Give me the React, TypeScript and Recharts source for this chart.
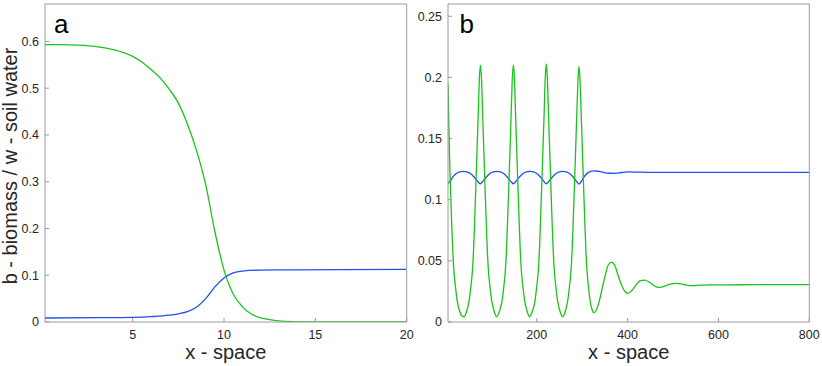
import React from "react";
import { LineChart, Line, XAxis, YAxis } from "recharts";

// panel a: front between vegetated and bare state
const A_X_TICKS = [5, 10, 15, 20];
const A_Y_TICKS = [0, 0.1, 0.2, 0.3, 0.4, 0.5, 0.6];

const aBiomass: [number, number][] = [
  [0.2, 0.593], [1, 0.593], [2, 0.592], [3, 0.589], [4, 0.582], [5, 0.568],
  [5.5, 0.556], [6, 0.54], [6.5, 0.522], [7, 0.498], [7.5, 0.468], [8, 0.423],
  [8.5, 0.366], [9, 0.293], [9.5, 0.193], [10, 0.111], [10.5, 0.06], [11, 0.033],
  [11.5, 0.017], [12, 0.009], [12.5, 0.005], [13, 0.0025], [14, 0.0008],
  [15, 0.0002], [17, 0], [20, 0],
];

const aWater: [number, number][] = [
  [0.2, 0.0086], [3, 0.0092], [5, 0.01], [6, 0.0115], [7, 0.0145], [7.5, 0.0175],
  [8, 0.022], [8.5, 0.032], [9, 0.05], [9.5, 0.075], [10, 0.094], [10.5, 0.105],
  [11, 0.109], [12, 0.111], [14, 0.1115], [20, 0.1125],
];

// panel b: periodic pattern next to uniform state
const B_X_TICKS = [200, 400, 600, 800];
const B_Y_TICKS = [0, 0.05, 0.1, 0.15, 0.2, 0.25];

const bBiomass: [number, number][] = [
  [4.6, 0.195], [6, 0.17], [8, 0.135], [10, 0.11], [12.5, 0.083], [15, 0.059],
  [18, 0.04], [21, 0.029], [25, 0.017], [30, 0.009], [34, 0.0055], [40, 0.0043],
  [46, 0.009], [51, 0.017], [55, 0.029], [58, 0.04], [61, 0.06], [63.5, 0.085],
  [66, 0.112], [68.5, 0.14], [71, 0.168], [73.5, 0.198], [76, 0.21], [78.5, 0.198],
  [81, 0.168], [83.5, 0.14], [86, 0.112], [88.5, 0.085], [91, 0.06], [94, 0.04],
  [97, 0.029], [101, 0.017], [106, 0.009], [112, 0.0043],
  [118, 0.009], [123.5, 0.017], [127.5, 0.029], [130.5, 0.04], [133.5, 0.06],
  [136, 0.085], [138.5, 0.112], [141, 0.14], [143.5, 0.168], [146, 0.198],
  [148.5, 0.21], [151, 0.198], [153.5, 0.168], [156, 0.14], [158.5, 0.112],
  [161, 0.085], [163.5, 0.06], [166.5, 0.04], [169.5, 0.029], [173.5, 0.017],
  [178.5, 0.009], [184.5, 0.0043],
  [190.5, 0.009], [196, 0.017], [200, 0.029], [203, 0.04], [206, 0.06],
  [208.5, 0.085], [211, 0.112], [213.5, 0.14], [216, 0.168], [218.5, 0.198],
  [221, 0.211], [223.5, 0.198], [226, 0.168], [228.5, 0.14], [231, 0.112],
  [233.5, 0.085], [236, 0.06], [239, 0.04], [242, 0.029], [246, 0.017],
  [251, 0.009], [257, 0.0043],
  [263, 0.009], [268, 0.017], [272, 0.029], [275, 0.04], [278, 0.06],
  [280.5, 0.085], [283, 0.112], [285.5, 0.14], [288, 0.168], [290.5, 0.196],
  [293, 0.209], [295.5, 0.196], [298, 0.168], [300.5, 0.14], [303, 0.112],
  [305.5, 0.085], [308, 0.06], [311, 0.04], [314, 0.028], [318, 0.016],
  [322, 0.01], [325, 0.0076],
  [330, 0.009], [337, 0.016], [345, 0.029], [352, 0.04], [358, 0.047], [365, 0.049],
  [372, 0.046], [380, 0.037], [388, 0.029], [395, 0.0245], [401, 0.0234],
  [410, 0.026], [420, 0.031], [428, 0.0338], [437, 0.0343], [446, 0.033],
  [455, 0.0305], [463, 0.0288], [471, 0.0283], [480, 0.0291], [490, 0.0305],
  [500, 0.0314], [508, 0.0316], [518, 0.0311], [530, 0.0302], [543, 0.0297],
  [560, 0.0301], [580, 0.0304], [620, 0.0304], [680, 0.0305], [740, 0.0305],
  [800, 0.0306],
];

const bWater: [number, number][] = [
  [4.6, 0.1135], [9, 0.115], [15, 0.1185], [22, 0.1212], [30, 0.1227], [38, 0.1232],
  [46, 0.1228], [54, 0.1214], [61, 0.119], [67, 0.1163], [71.5, 0.1143], [75.5, 0.113],
  [79.5, 0.1143], [84, 0.1163], [90, 0.119], [97, 0.1214], [104, 0.1228], [112, 0.1232],
  [120, 0.1228], [127, 0.1214], [134, 0.119], [140, 0.1163], [144.5, 0.1143],
  [148.5, 0.113], [152.5, 0.1143], [157, 0.1163], [163, 0.119], [170, 0.1214],
  [177, 0.1228], [185, 0.1232], [193, 0.1228], [200, 0.1214], [207, 0.119],
  [213, 0.1163], [217, 0.1143], [221, 0.113], [225, 0.1143], [229.5, 0.1163],
  [235.5, 0.119], [242.5, 0.1214], [249.5, 0.1228], [257, 0.1232], [265, 0.1228],
  [272, 0.1214], [279, 0.119], [285, 0.1163], [289, 0.1143], [293, 0.1128],
  [297, 0.1143], [301, 0.1168], [307, 0.12], [314, 0.1223], [321, 0.1234],
  [328, 0.1236], [337, 0.1231], [348, 0.1222], [360, 0.1216], [370, 0.1215],
  [382, 0.122], [395, 0.1226], [405, 0.1227], [420, 0.1225], [450, 0.1224],
  [500, 0.1224], [600, 0.1224], [700, 0.1224], [800, 0.1224],
];

const GREEN = "#19c419";
const BLUE = "#1f4ff2";
const AXIS = "#9a9a9a";
const FONT = "'Liberation Sans', Arial, sans-serif";
const tickStyle = { fill: "#262626", fontSize: 12.5, fontFamily: FONT };

const toPts = (arr: [number, number][]) => arr.map(([x, y]) => ({ x, y }));

function Panel({
  width, margin, xDomain, yDomain, xTicks, yTicks, biomass, water,
}: {
  width: number;
  margin: { top: number; right: number; bottom: number; left: number };
  xDomain: [number, number];
  yDomain: [number, number];
  xTicks: number[];
  yTicks: number[];
  biomass: [number, number][];
  water: [number, number][];
}) {
  return (
    <LineChart width={width} height={366} margin={margin}>
      <XAxis
        xAxisId="main" type="number" dataKey="x" domain={xDomain} ticks={xTicks}
        allowDataOverflow height={1} tickSize={-4} tickMargin={12}
        stroke={AXIS} tick={tickStyle} interval={0}
      />
      <XAxis
        xAxisId="top" orientation="top" type="number" dataKey="x" domain={xDomain}
        ticks={xTicks} allowDataOverflow height={1} tickSize={-4} tick={false} stroke={AXIS}
        interval={0}
      />
      <YAxis
        yAxisId="main" type="number" domain={yDomain} ticks={yTicks} allowDataOverflow
        width={1} tickSize={-4} tickMargin={10} stroke={AXIS} tick={tickStyle} interval={0}
      />
      <YAxis
        yAxisId="right" orientation="right" type="number" domain={yDomain} ticks={yTicks}
        allowDataOverflow width={1} tickSize={-4} tick={false} stroke={AXIS} interval={0}
      />
      <Line
        xAxisId="main" yAxisId="main" data={toPts(water)} dataKey="y" type="monotone"
        stroke={BLUE} strokeWidth={1.3} dot={false} isAnimationActive={false}
      />
      <Line
        xAxisId="main" yAxisId="main" data={toPts(biomass)} dataKey="y" type="monotone"
        stroke={GREEN} strokeWidth={1.3} dot={false} isAnimationActive={false}
      />
    </LineChart>
  );
}

export default function App() {
  return (
    <div style={{ position: "absolute", left: 0, top: 0, width: 822, height: 366, background: "#fff" }}>
      <div style={{ position: "absolute", left: 0, top: 0 }}>
        <Panel
          width={420}
          margin={{ top: 3, right: 12.3, bottom: 43, left: 44 }}
          xDomain={[0.2, 20]} yDomain={[0, 0.68]}
          xTicks={A_X_TICKS} yTicks={A_Y_TICKS}
          biomass={aBiomass} water={aWater}
        />
      </div>
      <div style={{ position: "absolute", left: 412, top: 0 }}>
        <Panel
          width={410}
          margin={{ top: 3, right: 11.7, bottom: 43, left: 35 }}
          xDomain={[4.6, 800]} yDomain={[0, 0.26]}
          xTicks={B_X_TICKS} yTicks={B_Y_TICKS}
          biomass={bBiomass} water={bWater}
        />
      </div>
      <svg
        width={822} height={366}
        style={{ position: "absolute", left: 0, top: 0, pointerEvents: "none" }}
        fontFamily={FONT} fill="#000"
      >
        <text x={54} y={32.5} fontSize={26}>a</text>
        <text x={459.5} y={32.5} fontSize={26}>b</text>
        <text x={225.8} y={359} fontSize={20} textAnchor="middle" fill="#262626">x - space</text>
        <text x={628.7} y={359} fontSize={20} textAnchor="middle" fill="#262626">x - space</text>
        <text
          transform="translate(16.5,166) rotate(-90)" fontSize={20}
          textAnchor="middle" fill="#262626"
        >
          b - biomass / w - soil water
        </text>
      </svg>
    </div>
  );
}
